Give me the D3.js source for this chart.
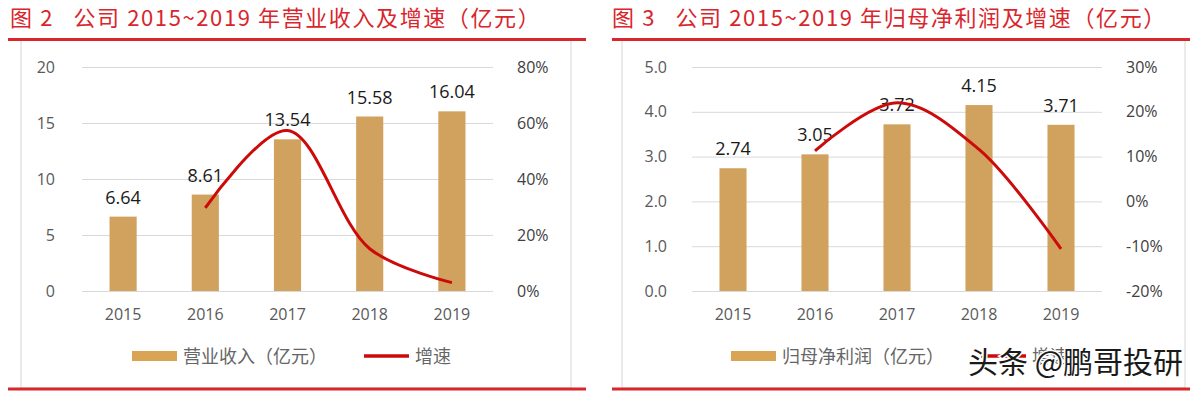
<!DOCTYPE html>
<html>
<head>
<meta charset="utf-8">
<script src="https://cdn.jsdelivr.net/npm/d3@7"></script>
<style>
  body { margin: 0; background: #fff; }
  svg { display: block; }
  .title { white-space: pre; }
</style>
</head>
<body>
<div id="chart"></div>
<script>
(function () {

    var width = 1200, height = 394

    // data
    var years = ['2015', '2016', '2017', '2018', '2019']
    var revenue = [6.64, 8.61, 13.54, 15.58, 16.04]
    var revenueGrowth = [null, 29.7, 57.3, 15.1, 3.0]
    var profit = [2.74, 3.05, 3.72, 4.15, 3.71]
    var profitGrowth = [null, 11.3, 22.0, 11.6, -10.6]

    var revenueTicks = [0, 5, 10, 15, 20]
    var revenueGrowthTicks = [0, 20, 40, 60, 80]
    var profitTicks = [0, 1, 2, 3, 4, 5]
    var profitGrowthTicks = [-20, -10, 0, 10, 20, 30]

    var red = '#cc0a0a', tan = '#d1a15e', numFont = '"Open Sans", "Noto Sans", sans-serif'
    var cjk = '"Noto Sans CJK SC", sans-serif'

    var svg = d3.select('#chart')
        .append('svg')
        .attr('width', width)
        .attr('height', height)

    function drawPanel(opt) {
        var g = svg.append('g')

        // title + rules
        g.append('text')
            .attr('class', 'title')
            .attr('x', opt.titleX)
            .attr('y', 26)
            .attr('fill', '#d8262c')
            .attr('font-family', cjk)
            .attr('font-size', 22)
            .attr('letter-spacing', 1.6)
            .text(opt.title)

        g.append('rect')
            .attr('x', opt.boxL)
            .attr('y', 40)
            .attr('width', opt.boxR - opt.boxL)
            .attr('height', 348)
            .attr('fill', 'none')
            .attr('stroke', '#d6d6d6')

        g.append('line')
            .attr('x1', opt.ruleL).attr('x2', opt.ruleR)
            .attr('y1', 39.5).attr('y2', 39.5)
            .attr('stroke', '#d8262c').attr('stroke-width', 3)
        g.append('line')
            .attr('x1', opt.ruleL).attr('x2', opt.ruleR)
            .attr('y1', 389).attr('y2', 389)
            .attr('stroke', '#d8262c').attr('stroke-width', 3)

        var x = d3.scaleBand()
            .domain(years)
            .range([opt.plotL, opt.plotR])
            .paddingInner(0.67)
            .paddingOuter(0.335)

        var y = d3.scaleLinear()
            .domain(d3.extent(opt.ticks))
            .range([291, 67])

        var y2 = d3.scaleLinear()
            .domain(d3.extent(opt.ticks2))
            .range([291, 67])

        // grid
        g.append('g')
            .call(d3.axisLeft(y).tickValues(opt.ticks).tickSize(-(opt.plotR - opt.plotL)).tickFormat(''))
            .attr('transform', 'translate(' + opt.plotL + ',0)')
            .call(function (a) {
                a.select('.domain').remove()
                a.selectAll('line').attr('stroke', '#d9d9d9')
            })

        // left axis labels
        g.append('g')
            .attr('transform', 'translate(' + opt.leftLabelX + ',0)')
            .call(d3.axisLeft(y).tickValues(opt.ticks).tickSize(0).tickPadding(0).tickFormat(opt.fmt))
            .call(function (a) {
                a.select('.domain').remove()
                a.selectAll('text').attr('font-family', numFont).attr('font-size', 16).attr('fill', '#595959')
            })

        // right axis labels
        g.append('g')
            .attr('transform', 'translate(' + opt.rightLabelX + ',0)')
            .call(d3.axisRight(y2).tickValues(opt.ticks2).tickSize(0).tickPadding(0).tickFormat(function (d) { return d + '%' }))
            .call(function (a) {
                a.select('.domain').remove()
                a.selectAll('text').attr('font-family', numFont).attr('font-size', 16).attr('fill', '#404040')
            })

        // x labels
        g.append('g')
            .attr('transform', 'translate(0,' + 309 + ')')
            .call(d3.axisBottom(x).tickSize(0).tickPadding(0))
            .call(function (a) {
                a.select('.domain').remove()
                a.selectAll('text').attr('font-family', numFont).attr('font-size', 16).attr('fill', '#595959')
            })

        // bars
        g.selectAll('.bar')
            .data(opt.values)
            .enter().append('rect')
            .attr('class', 'bar')
            .attr('x', function (d, i) { return x(years[i]) })
            .attr('width', x.bandwidth())
            .attr('y', function (d) { return y(d) })
            .attr('height', function (d) { return y(0) - y(d) })
            .attr('fill', tan)

        // value labels
        g.selectAll('.val')
            .data(opt.values)
            .enter().append('text')
            .attr('class', 'val')
            .attr('x', function (d, i) { return x(years[i]) + x.bandwidth() / 2 })
            .attr('y', function (d) { return y(d) - 13 })
            .attr('text-anchor', 'middle')
            .attr('font-family', numFont)
            .attr('font-size', 18)
            .attr('fill', '#1a1a1a')
            .text(function (d) { return d.toFixed(2) })

        // growth line
        var pts = opt.growth.map(function (d, i) { return [years[i], d] })
            .filter(function (p) { return p[1] !== null })

        var line = d3.line()
            .x(function (p) { return x(p[0]) + x.bandwidth() / 2 })
            .y(function (p) { return y2(p[1]) })
            .curve(d3.curveCatmullRom.alpha(0.5))

        g.append('path')
            .datum(pts)
            .attr('d', line)
            .attr('fill', 'none')
            .attr('stroke', red)
            .attr('stroke-width', 3)

        // legend
        var lg = g.append('g')
        lg.append('rect')
            .attr('x', opt.legendX).attr('y', 351)
            .attr('width', 45).attr('height', 10)
            .attr('fill', '#d9a554')
        var t1 = lg.append('text')
            .attr('x', opt.legendX + 51).attr('y', 363)
            .attr('font-family', cjk)
            .attr('font-size', 18)
            .attr('fill', '#666')
            .text(opt.legendText)
        var lx = opt.legendX + 51 + t1.node().getComputedTextLength() + 37
        lg.append('line')
            .attr('x1', lx).attr('x2', lx + 45)
            .attr('y1', 356).attr('y2', 356)
            .attr('stroke', red).attr('stroke-width', 3.5)
        lg.append('text')
            .attr('x', lx + 51).attr('y', 363)
            .attr('font-family', cjk)
            .attr('font-size', 18)
            .attr('fill', '#666')
            .text('增速')
    }

    drawPanel({
        title: '图 2   公司 2015~2019 年营业收入及增速（亿元）',
        titleX: 10, boxL: 21, boxR: 571, ruleL: 8, ruleR: 586,
        plotL: 82, plotR: 493, leftLabelX: 55, rightLabelX: 517,
        ticks: revenueTicks, ticks2: revenueGrowthTicks,
        fmt: d3.format('d'),
        values: revenue, growth: revenueGrowth,
        legendX: 132, legendText: '营业收入（亿元）'
    })

    drawPanel({
        title: '图 3   公司 2015~2019 年归母净利润及增速（亿元）',
        titleX: 612, boxL: 622, boxR: 1185, ruleL: 612, ruleR: 1190,
        plotL: 692, plotR: 1102, leftLabelX: 667, rightLabelX: 1126,
        ticks: profitTicks, ticks2: profitGrowthTicks,
        fmt: d3.format('.1f'),
        values: profit, growth: profitGrowth,
        legendX: 731, legendText: '归母净利润（亿元）'
    })

    // watermark, drawn over the right legend as in the source image
    svg.append('text')
        .attr('x', 968)
        .attr('y', 373)
        .attr('font-family', cjk)
        .attr('font-size', 30)
        .attr('fill', '#1a1a1a')
        .attr('stroke', '#fff')
        .attr('stroke-width', 3)
        .attr('paint-order', 'stroke')
        .text('头条 @鹏哥投研')

})()
</script>
</body>
</html>
